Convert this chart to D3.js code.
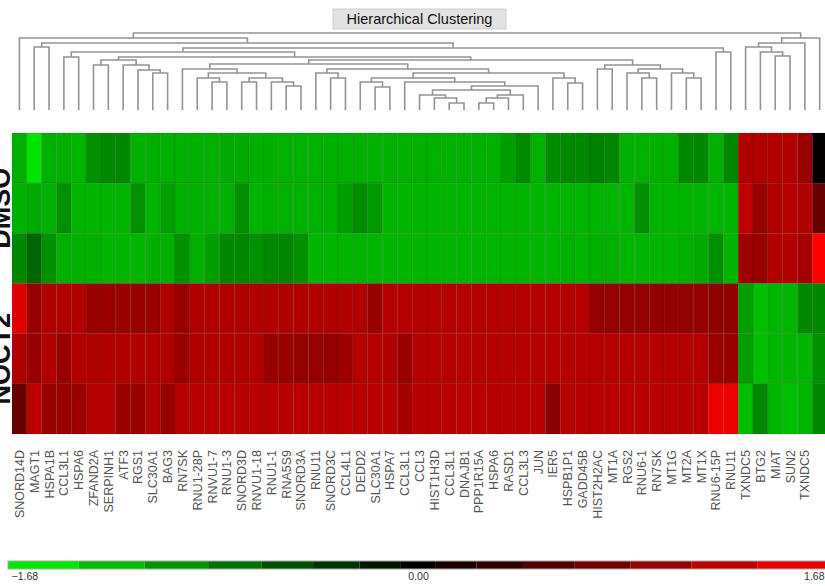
<!DOCTYPE html>
<html>
<head>
<meta charset="utf-8">
<script src="https://cdn.jsdelivr.net/npm/d3@7"></script>
<style>
  body { margin: 0; background: #fff; }
  svg { display: block; font-family: 'Liberation Sans', Arial, sans-serif; }
</style>
</head>
<body>
<svg id="chart"></svg>
<script>
const genes = ['SNORD14D', 'MAGT1', 'HSPA1B', 'CCL3L1', 'HSPA6', 'ZFAND2A', 'SERPINH1', 'ATF3', 'RGS1', 'SLC30A1',
  'BAG3', 'RN7SK', 'RNU1-28P', 'RNVU1-7', 'RNU1-3', 'SNORD3D', 'RNVU1-18', 'RNU1-1', 'RNA5S9', 'SNORD3A',
  'RNU11', 'SNORD3C', 'CCL4L1', 'DEDD2', 'SLC30A1', 'HSPA7', 'CCL3L1', 'CCL3', 'HIST1H3D', 'CCL3L1',
  'DNAJB1', 'PPP1R15A', 'HSPA6', 'RASD1', 'CCL3L3', 'JUN', 'IER5', 'HSPB1P1', 'GADD45B', 'HIST2H2AC',
  'MT1A', 'RGS2', 'RNU6-1', 'RN7SK', 'MT1G', 'MT2A', 'MT1X', 'RNU6-15P', 'RNU11', 'TXNDC5',
  'BTG2', 'MIAT', 'SUN2', 'TXNDC5', '']

const groups = ['DMSO', 'NOCT2']
const samples = ['DMSO 1', 'DMSO 2', 'DMSO 3', 'NOCT2 1', 'NOCT2 2', 'NOCT2 3']

// z-scores per gene
const dmso1 = [-1.16, -1.50, -1.16, -1.16, -1.19, -0.95, -0.90, -0.90, -1.16, -1.16,
  -1.16, -1.16, -1.16, -1.16, -1.12, -1.12, -1.16, -1.16, -1.16, -1.16,
  -1.16, -1.16, -1.16, -1.16, -1.16, -1.16, -1.16, -1.16, -1.16, -1.16,
  -1.16, -1.16, -1.16, -1.05, -0.92, -1.16, -0.92, -0.90, -0.90, -0.84,
  -0.90, -1.16, -1.16, -1.16, -1.16, -0.90, -0.90, -1.16, -0.90, 1.16,
  1.16, 1.16, 1.16, 1.01, 0.02]
const dmso2 = [-1.16, -1.12, -1.16, -0.95, -1.19, -1.19, -1.19, -1.19, -0.95, -1.19,
  -1.05, -1.16, -1.16, -1.16, -1.16, -0.95, -1.19, -1.16, -1.16, -1.16,
  -1.16, -1.16, -1.05, -0.93, -1.01, -1.19, -1.19, -1.19, -1.19, -1.19,
  -1.19, -1.19, -1.19, -1.19, -1.19, -1.19, -1.19, -1.19, -1.19, -1.19,
  -1.19, -1.19, -0.95, -1.19, -1.19, -1.19, -1.19, -1.19, -1.19, 1.26,
  1.01, 1.16, 1.21, 1.16, 0.67]
const dmso3 = [-0.90, -0.67, -0.95, -1.16, -1.16, -1.16, -1.19, -1.19, -1.19, -1.16,
  -1.16, -0.95, -1.16, -1.05, -0.90, -0.90, -0.95, -0.90, -0.88, -0.95,
  -1.19, -1.19, -1.19, -1.19, -1.19, -1.19, -1.19, -1.19, -1.19, -1.19,
  -1.19, -1.19, -1.19, -1.19, -1.19, -1.19, -1.19, -1.16, -1.19, -1.16,
  -1.16, -1.19, -1.19, -1.19, -1.19, -1.16, -1.12, -0.95, -1.19, 1.05,
  1.01, 1.16, 1.16, 1.11, 1.68]
const noct1 = [1.48, 1.01, 1.16, 1.16, 1.16, 1.01, 1.01, 1.01, 1.01, 1.01,
  1.16, 1.01, 1.16, 1.16, 1.16, 1.16, 1.16, 1.16, 1.16, 1.16,
  1.16, 1.16, 1.16, 1.16, 1.01, 1.19, 1.19, 1.19, 1.19, 1.19,
  1.19, 1.19, 1.19, 1.19, 1.19, 1.19, 1.19, 1.19, 1.19, 0.98,
  0.98, 0.98, 0.98, 0.98, 0.98, 0.98, 0.98, 0.95, 0.95, -1.05,
  -1.26, -1.19, -1.19, -0.90, -0.90]
const noct2 = [1.16, 1.01, 1.16, 1.01, 1.16, 1.16, 1.16, 1.16, 1.16, 1.16,
  1.16, 1.01, 1.16, 1.16, 1.16, 1.16, 1.16, 1.01, 1.01, 0.98,
  0.98, 0.98, 1.03, 1.19, 1.19, 1.16, 1.01, 1.19, 1.19, 1.19,
  1.19, 1.19, 1.19, 1.19, 1.19, 1.19, 1.19, 1.19, 1.19, 1.19,
  1.19, 1.19, 1.19, 1.19, 1.19, 1.19, 1.19, 1.01, 1.01, -1.05,
  -1.26, -1.19, -1.19, -1.19, -0.95]
const noct3 = [0.67, 1.26, 1.01, 1.01, 1.01, 1.21, 1.21, 1.01, 1.01, 1.16,
  1.01, 1.21, 1.21, 1.21, 1.21, 1.21, 1.21, 1.21, 1.21, 1.21,
  1.21, 1.21, 1.21, 1.21, 1.21, 1.21, 1.11, 1.21, 1.21, 1.21,
  1.21, 1.21, 1.21, 1.21, 1.21, 1.21, 0.90, 1.21, 1.21, 1.21,
  1.21, 1.21, 1.21, 1.21, 1.21, 1.21, 1.21, 1.57, 1.57, -1.26,
  -0.90, -1.19, -1.26, -1.19, -0.90]
const rows = [dmso1, dmso2, dmso3, noct1, noct2, noct3]

// gene dendrogram: merge height, then the two branches (numbers are column indices)
const n = (h, a, b) => ({ h, children: [a, b] })
const geneTree = n(77,
  n(72, 0,
    n(67, n(63, 1, 2),
      n(62,
        n(58, n(53, 3, 4),
          n(53,
            n(50, n(45, 5, 6), n(45, 7, n(40, 8, n(37, 9, 10)))),
            n(50,
              n(46,
                n(41, 11, n(37, n(32, 12, n(28, 13, 14)), n(32, n(28, 15, 16), n(28, 17, n(24, 18, 19))))),
                n(41, n(37, 20, n(32, 21, 22)),
                  n(37,
                    n(32, n(28, 23, n(23, 24, 25)),
                      n(28, 26, n(24, n(20, n(15, 27, n(12, 28, n(7, 29, 30))), n(15, n(12, n(7, 31, 32), 33), 34)), 35))),
                    n(32, 36, n(27, 37, 38))))),
              n(45, n(41, 39, 40), n(41, n(37, 41, n(32, 42, 43)), n(37, 44, n(32, 45, 46))))))),
        n(58, 47, 48)))),
  n(72, n(67, n(63, 49, n(58, 50, n(54, 51, 52))), 53), 54))

const legendTicks = [-1.68, 0, 1.68]
const legendBreaks = [-1.39, -1.12, -0.86, -0.64, -0.43, -0.24, -0.07, 0.07, 0.24, 0.43, 0.64, 0.87, 1.12, 1.39]

const W = 825
const H = 586

const svg = d3.select('#chart').attr('width', W).attr('height', H)

const xScale = d3.scaleBand().domain(d3.range(genes.length)).range([12, 12 + genes.length * 14.82])
const yScale = d3.scaleBand().domain(samples).range([133, 434])
const hScale = d3.scaleLinear().domain([0, 77]).range([110, 33])
const color = d3.scaleLinear()
  .domain([-1.68, 0, 1.68])
  .range(['#00ff00', '#000000', '#ff0000'])
  .clamp(true)

// title
const title = svg.append('g')
title.append('rect')
  .attr('x', 333).attr('y', 9).attr('width', 173).attr('height', 20)
  .attr('fill', '#e2e2e2').attr('stroke', '#cfcfcf')
title.append('text')
  .attr('x', 419.5).attr('y', 24)
  .attr('text-anchor', 'middle')
  .attr('font-size', 14.5)
  .attr('fill', '#111')
  .text('Hierarchical Clustering')

// dendrogram
const root = d3.hierarchy(geneTree, (d) => (typeof d === 'number' ? null : d.children))
root.eachAfter((node) => {
  if (node.children) {
    node.px = d3.mean(node.children, (c) => c.px)
    node.py = hScale(node.data.h)
  } else {
    node.px = xScale(node.data) + xScale.bandwidth() / 2
    node.py = hScale(0)
  }
})

svg.append('g')
  .selectAll('path')
  .data(root.descendants().filter((d) => d.children))
  .enter()
  .append('path')
  .attr('d', (d) => {
    const [a, b] = d.children
    return `M${a.px},${a.py}V${d.py}H${b.px}V${b.py}`
  })
  .attr('fill', 'none')
  .attr('stroke', '#949494')
  .attr('stroke-width', 1.6)

// heatmap cells
const cells = []
rows.forEach((vals, r) => vals.forEach((v, c) => cells.push({ sample: samples[r], gene: c, value: v })))

svg.append('g')
  .selectAll('rect')
  .data(cells)
  .enter()
  .append('rect')
  .attr('x', (d) => xScale(d.gene))
  .attr('y', (d) => yScale(d.sample))
  .attr('width', xScale.bandwidth())
  .attr('height', yScale.bandwidth())
  .attr('fill', (d) => color(d.value))
  .attr('stroke', 'rgba(0,0,0,0.12)')
  .attr('stroke-width', 0.8)

// group labels on the left, cut by the picture edge as in the original
svg.append('g')
  .selectAll('text')
  .data(groups)
  .enter()
  .append('text')
  .attr('transform', (d, i) => {
    const y0 = yScale(samples[i * 3])
    const y1 = yScale(samples[i * 3 + 2]) + yScale.bandwidth()
    return `translate(10,${(y0 + y1) / 2}) rotate(-90)`
  })
  .attr('text-anchor', 'middle')
  .attr('font-size', 27)
  .attr('font-weight', 'bold')
  .attr('fill', '#111')
  .text((d) => d)

// gene labels
svg.append('g')
  .selectAll('text')
  .data(genes)
  .enter()
  .append('text')
  .attr('transform', (d, i) => `translate(${xScale(i) + xScale.bandwidth() / 2 + 4.5},450) rotate(-90)`)
  .attr('text-anchor', 'end')
  .attr('font-size', 12.5)
  .attr('fill', '#555')
  .text((d) => d)

// colour legend
const legendX = d3.scaleLinear().domain([-1.68, 1.68]).range([8, 828])
const edges = [-1.68, ...legendBreaks, 1.68]
const bands = d3.pairs(edges)

const legend = svg.append('g')
legend.selectAll('rect')
  .data(bands)
  .enter()
  .append('rect')
  .attr('x', (d) => legendX(d[0]))
  .attr('y', 561)
  .attr('width', (d) => legendX(d[1]) - legendX(d[0]))
  .attr('height', 8)
  .attr('fill', (d) => color((d[0] + d[1]) / 2))

legend.append('rect')
  .attr('x', legendX(-1.68)).attr('y', 561)
  .attr('width', legendX(1.68) - legendX(-1.68)).attr('height', 8)
  .attr('fill', 'none').attr('stroke', '#aaa')

legend.append('g')
  .attr('transform', 'translate(0,569)')
  .call(d3.axisBottom(legendX).tickValues(legendTicks).tickSize(0).tickPadding(4).tickFormat(d3.format('.2f')))
  .call((g) => g.select('.domain').remove())
  .selectAll('.tick text')
  .attr('font-family', "'Liberation Sans', Arial, sans-serif")
  .attr('font-size', 10.5)
  .attr('fill', '#333')
  .attr('text-anchor', (d, i) => ['start', 'middle', 'end'][i])
  .attr('dx', (d, i) => [3, 0, -4][i])
</script>
</body>
</html>
